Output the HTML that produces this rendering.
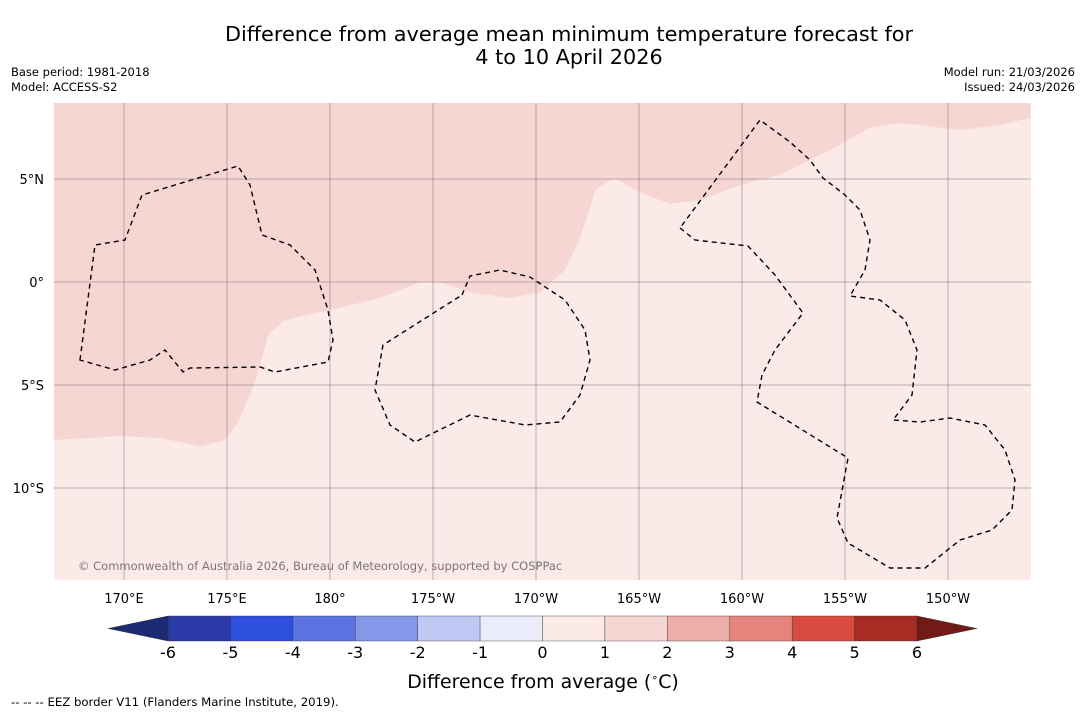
<!DOCTYPE html>
<html><head><meta charset="utf-8"><style>
body{margin:0;background:#fff;font-family:"Liberation Sans","DejaVu Sans",sans-serif;}
svg text{font-family:"DejaVu Sans","Liberation Sans",sans-serif;}
</style></head><body>
<svg id="chart" width="1085" height="713" xmlns="http://www.w3.org/2000/svg">
<rect width="1085" height="713" fill="#fff"/>
<text x="569" y="41" font-size="20.8" text-anchor="middle" fill="#000">Difference from average mean minimum temperature forecast for</text>
<text x="569" y="64" font-size="20.8" text-anchor="middle" fill="#000">4 to 10 April 2026</text>
<text x="11" y="76" font-size="11.5">Base period: 1981-2018</text>
<text x="11" y="91" font-size="11.5">Model: ACCESS-S2</text>
<text x="1075" y="76" font-size="11.5" text-anchor="end">Model run: 21/03/2026</text>
<text x="1075" y="91" font-size="11.5" text-anchor="end">Issued: 24/03/2026</text>
<g id="map"></g>
<g id="cbar"></g>
<text x="543" y="688" font-size="18.9" text-anchor="middle">Difference from average (<tspan font-size="11" dy="-7">∘</tspan><tspan dy="7">C)</tspan></text>
<text x="11" y="706" font-size="11.7">--  --  -- EEZ border V11 (Flanders Marine Institute, 2019).</text>
</svg>
<script>
// ---- data ----
const lonTicks=[170,175,180,185,190,195,200,205,210];
const lonTickLabels=["170°E","175°E","180°","175°W","170°W","165°W","160°W","155°W","150°W"];
const latTicks=[5,0,-5,-10];
const latTickLabels=["5°N","0°","5°S","10°S"];
const cbarLevels=[-6,-5,-4,-3,-2,-1,0,1,2,3,4,5,6];
const cbarColors=["#2a3aa6","#2f4fdf","#5a72e2","#8597e9","#c1c8f3","#eaecfa","#fbeae7","#f6d6d3","#ecaea8","#e5847c","#d94b40","#a92c24"];
const contourLon=[166.6,169.8,171.75,173.7,174.9,175.6,176.4,177.0,177.8,180,182.4,184.4,185.3,186.8,188.7,190.2,191.4,192.1,192.9,193.8,195.0,196.5,198.0,199.9,201.8,204.3,206.2,207.7,210.6,212.5,214.0,214.0,166.6];
const contourLat=[-7.67,-7.48,-7.57,-7.96,-7.67,-6.7,-4.76,-2.57,-1.84,-1.36,-0.78,0,0,-0.49,-0.78,-0.49,0.58,2.04,4.47,5.05,4.37,3.79,3.98,4.71,5.19,6.41,7.48,7.72,7.38,7.62,7.96,8.69,8.69];
// ---- geometry ----
const X0=54,X1=1031,Y0=103,Y1=580;
const xs=lon=>124+(lon-170)*20.6;
const ys=lat=>282-lat*20.6;
const NS="http://www.w3.org/2000/svg";
function mk(tag,attrs,parent){const e=document.createElementNS(NS,tag);for(const k in attrs)e.setAttribute(k,attrs[k]);parent.appendChild(e);return e;}
const map=document.getElementById('map');
const bg=mk('rect',{x:X0,y:Y0,width:X1-X0,height:Y1-Y0,fill:cbarColors[6]},map);


let pts=contourLon.map((l,i)=>xs(l)+','+ys(contourLat[i])).join(' ');
const poly=mk('polygon',{points:pts,fill:cbarColors[7]},map);


lonTicks.forEach((l,i)=>{
 const g=mk('line',{x1:xs(l),x2:xs(l),y1:Y0,y2:Y1,stroke:'#555','stroke-width':0.4},map);
 
 
 const t=mk('text',{x:xs(l),y:603,'font-size':13,'text-anchor':'middle'},map);t.textContent=lonTickLabels[i];
 
 
});
latTicks.forEach((l,i)=>{
 const g=mk('line',{x1:X0,x2:X1,y1:ys(l),y2:ys(l),stroke:'#555','stroke-width':0.4},map);
 
 
 const t=mk('text',{x:44,y:ys(l)+5,'font-size':13,'text-anchor':'end'},map);t.textContent=latTickLabels[i];
 
 
});
const eez=["M80,360 L95,245 L125,240 L142,195 L175,185 L238,166 L250,185 L262,235 L290,245 L315,270 L328,310 L333,340 L328,362 L275,372 L260,367 L190,368 L183,372 L165,350 L150,360 L115,370 Z",
"M462,295 L470,276 L500,270 L530,277 L565,300 L585,330 L590,360 L580,395 L560,422 L525,425 L470,415 L415,442 L390,425 L375,390 L383,345 Z",
"M680,228 L695,240 L748,246 L775,275 L803,313 L775,350 L762,375 L757,402 L848,458 L837,518 L848,543 L890,568 L925,568 L960,540 L992,530 L1012,510 L1015,480 L1005,450 L985,425 L950,418 L920,422 L893,420 L912,395 L917,350 L905,320 L880,300 L850,296 L865,270 L870,240 L860,210 L845,195 L823,178 L810,160 L790,142 L760,120 Z"];
eez.forEach(d=>{const p=mk('path',{d:d,fill:'none',stroke:'#000','stroke-width':1.4,'stroke-dasharray':'5,4'},map);
 
 });
const cr=mk('text',{x:78,y:570,'font-size':11.5,fill:'#777'},map);cr.textContent="© Commonwealth of Australia 2026, Bureau of Meteorology, supported by COSPPac";


// colorbar
const cb=document.getElementById('cbar');
const cx0=168,cx1=917,cy=616,ch=25;
const cw=(cx1-cx0)/cbarColors.length;
const cbx=v=>cx0+(v-cbarLevels[0])/(cbarLevels[cbarLevels.length-1]-cbarLevels[0])*(cx1-cx0);
cbarColors.forEach((c,i)=>{const r=mk('rect',{x:cbx(cbarLevels[i]),y:cy,width:cw,height:ch,fill:c,stroke:'#333','stroke-width':0.4},cb);
 
 });
const lo=mk('polygon',{points:`${cx0},${cy} ${cx0},${cy+ch} 108,${cy+ch/2}`,fill:'#1b2a72',stroke:'#333','stroke-width':0.4},cb);


const hi=mk('polygon',{points:`${cx1},${cy} ${cx1},${cy+ch} 977,${cy+ch/2}`,fill:'#721a16',stroke:'#333','stroke-width':0.4},cb);


cbarLevels.forEach(v=>{const t=mk('text',{x:cbx(v),y:658,'font-size':16,'text-anchor':'middle'},cb);t.textContent=String(v);
 
 });
</script>
</body></html>
